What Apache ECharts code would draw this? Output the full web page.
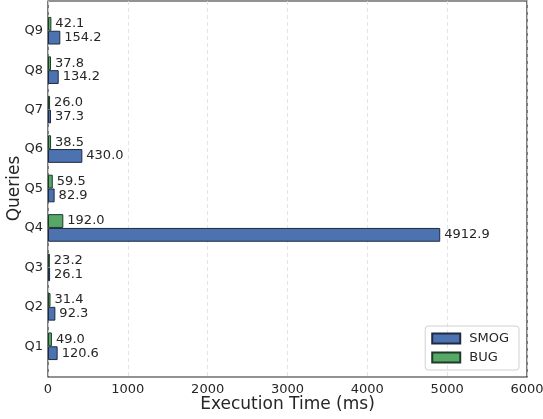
<!DOCTYPE html>
<html>
<head>
<meta charset="utf-8">
<script src="https://cdn.jsdelivr.net/npm/echarts@6/dist/echarts.min.js"></script>
<style>
  html, body { margin: 0; padding: 0; background: #fff; }
  #main { width: 543px; height: 419px; }
</style>
</head>
<body>
<div id="main"></div>
<script>
// data
const queries = ["Q1", "Q2", "Q3", "Q4", "Q5", "Q6", "Q7", "Q8", "Q9"];
const smogTimes = [120.6, 92.3, 26.1, 4912.9, 82.9, 430.0, 37.3, 134.2, 154.2];
const bugTimes = [49.0, 31.4, 23.2, 192.0, 59.5, 38.5, 26.0, 37.8, 42.1];
const xTicks = [0, 1000, 2000, 3000, 4000, 5000, 6000];

const textColor = "#262626";
const font = "DejaVu Sans";

const myChart = echarts.init(document.getElementById("main"));

const valueLabel = {
  show: true,
  position: "right",
  distance: 4,
  fontFamily: font,
  fontSize: 13,
  color: textColor,
  formatter: (p) => p.value.toFixed(1),
};

myChart.setOption({
  animation: false,
  textStyle: { fontFamily: font },
  legend: {
    orient: "vertical",
    right: 24,
    bottom: 49,
    itemWidth: 28,
    itemHeight: 10,
    itemGap: 6,
    padding: [6, 10, 6, 6],
    borderColor: "#d0d0d0",
    borderWidth: 1,
    borderRadius: 3,
    textStyle: { fontFamily: font, fontSize: 13, color: textColor, padding: [0, 0, 0, 4] },
    data: [
      { name: "SMOG", icon: "rect" },
      { name: "BUG", icon: "rect" },
    ],
  },
  grid: [
    // bars: bands sized like the matplotlib margins
    { left: 48, right: 16, top: 11, bottom: 53, containLabel: false, outerBoundsMode: "none" },
    // frame + x axis over the full plot area
    {
      left: 48, right: 16, top: 1, bottom: 42,
      containLabel: false, outerBoundsMode: "none",
      show: true, borderColor: textColor, borderWidth: 1.2, backgroundColor: "transparent",
    },
  ],
  xAxis: [
    { gridIndex: 0, type: "value", min: 0, max: 6000, show: false },
    {
      gridIndex: 1,
      type: "value",
      min: xTicks[0],
      max: xTicks[xTicks.length - 1],
      interval: 1000,
      axisLine: { show: false },
      axisTick: { show: false },
      splitLine: { show: true, lineStyle: { color: "#dddddd", type: [4, 3], width: 0.8 } },
      axisLabel: { fontFamily: font, fontSize: 13, color: textColor, margin: 6, formatter: (v) => String(v) },
      name: "Execution Time (ms)",
      nameLocation: "middle",
      nameGap: 19,
      nameMoveOverlap: false,
      nameTextStyle: { fontFamily: font, fontSize: 17, color: textColor },
    },
  ],
  yAxis: [
    {
      gridIndex: 0,
      type: "category",
      data: queries,
      axisLine: { show: false },
      axisTick: { show: false },
      splitLine: { show: false },
      axisLabel: { fontFamily: font, fontSize: 13, color: textColor, margin: 5 },
      name: "Queries",
      nameLocation: "middle",
      nameGap: 25,
      nameMoveOverlap: false,
      nameTextStyle: { fontFamily: font, fontSize: 17, color: textColor },
    },
    { gridIndex: 1, type: "value", show: false, min: 0, max: 1 },
  ],
  series: [
    // first series sits on top inside each band
    {
      name: "BUG",
      type: "bar",
      xAxisIndex: 0,
      yAxisIndex: 0,
      barWidth: 13.8,
      barGap: "0%",
      itemStyle: { color: "#55a868", borderColor: "#1f3a26", borderWidth: 1 },
      label: valueLabel,
      data: bugTimes,
    },
    {
      name: "SMOG",
      type: "bar",
      xAxisIndex: 0,
      yAxisIndex: 0,
      barWidth: 13.8,
      barGap: "0%",
      itemStyle: { color: "#4c72b0", borderColor: "#1f2a40", borderWidth: 1 },
      label: valueLabel,
      data: smogTimes,
    },
  ],
});

window.addEventListener("resize", function () {
  myChart.resize();
});
</script>
</body>
</html>
